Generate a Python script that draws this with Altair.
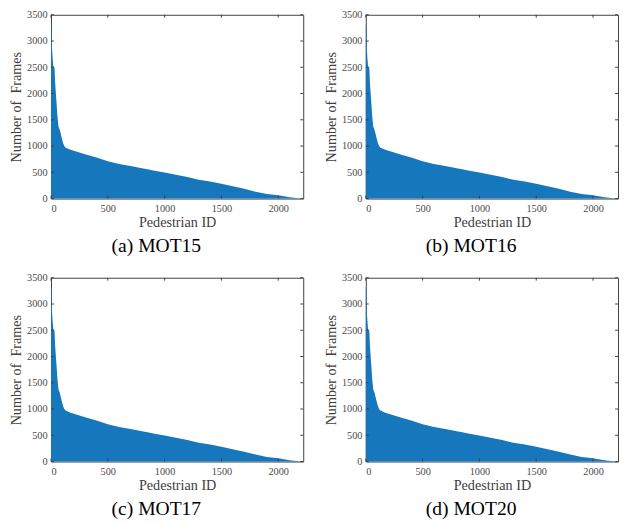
import altair as alt
import pandas as pd

# Values (sorted track lengths); all four panels look the same
pedestrian_id = [0, 3, 9, 14, 20, 31, 37, 49, 57, 66, 77, 94, 106, 117, 129, 172, 243,
                 300, 400, 500, 600, 700, 800, 850, 900, 1000, 1100, 1200, 1300, 1400,
                 1500, 1600, 1700, 1800, 1900, 2000, 2100, 2180, 2200]
num_frames = [3320, 3300, 2860, 2680, 2520, 2490, 2180, 1810, 1560, 1370, 1310, 1160,
              1060, 1000, 970, 930, 880, 845, 783, 710, 658, 621, 578, 559, 534, 497,
              453, 410, 358, 323, 280, 236, 185, 132, 88, 62, 25, 4, 0]
x_ticks = [0, 500, 1000, 1500, 2000]
y_ticks = [0, 500, 1000, 1500, 2000, 2500, 3000, 3500]
captions = ["(a) MOT15", "(b) MOT16", "(c) MOT17", "(d) MOT20"]

BLUE = "#1777bc"
AX = "#404040"
FONT = "Liberation Serif"
W, H = 258, 188
TL = 3

df = pd.DataFrame({"id": pedestrian_id, "frames": num_frames})
xt = pd.DataFrame({"id": x_ticks})
yt = pd.DataFrame({"frames": y_ticks})

xs = alt.Scale(domain=[0, 2220], nice=False, zero=False)
ys = alt.Scale(domain=[0, 3500], nice=False)
xax = alt.Axis(values=x_ticks, title="Pedestrian ID", format="d",
               labelPadding=5, titlePadding=2)
yax = alt.Axis(values=y_ticks, title="Number of\u00a0\u00a0Frames", format="d",
               labelPadding=4, titlePadding=3)


def panel(cap):
    area = alt.Chart(df).mark_area(color=BLUE, opacity=1).encode(
        x=alt.X("id:Q", scale=xs, axis=xax),
        y=alt.Y("frames:Q", scale=ys, axis=yax),
    )
    bt = alt.Chart(xt).mark_rule(color=AX).encode(
        x=alt.X("id:Q", scale=xs, axis=xax), y=alt.value(H), y2=alt.value(H - TL))
    tt = alt.Chart(xt).mark_rule(color=AX).encode(
        x=alt.X("id:Q", scale=xs, axis=xax), y=alt.value(0), y2=alt.value(TL))
    lt = alt.Chart(yt).mark_rule(color=AX).encode(
        y=alt.Y("frames:Q", scale=ys, axis=yax), x=alt.value(0), x2=alt.value(TL))
    rt = alt.Chart(yt).mark_rule(color=AX).encode(
        y=alt.Y("frames:Q", scale=ys, axis=yax), x=alt.value(W), x2=alt.value(W - TL))
    return alt.layer(area, bt, tt, lt, rt).properties(
        width=W, height=H,
        title=alt.TitleParams(cap, orient="bottom", frame="bounds", anchor="middle",
                              offset=8, fontSize=20, font=FONT, fontWeight="normal",
                              color="#000000"),
    )


row1 = alt.hconcat(panel(captions[0]), panel(captions[1]), spacing=19)
row2 = alt.hconcat(panel(captions[2]), panel(captions[3]), spacing=19)
chart = alt.vconcat(row1, row2, spacing=15).properties(
    padding={"left": 0, "top": -5, "right": 0, "bottom": 0}
).configure(background="white").configure_view(
    stroke=AX, strokeWidth=1
).configure_axis(
    domain=False, grid=False, ticks=False, tickSize=0,
    labelFont=FONT, labelFontSize=10.5, labelColor="#4a4a4a",
    titleFont=FONT, titleFontSize=14.5, titleColor="#404040", titleFontWeight="normal",
)

chart.save("out.html", embed_options={"renderer": "svg", "actions": False})
